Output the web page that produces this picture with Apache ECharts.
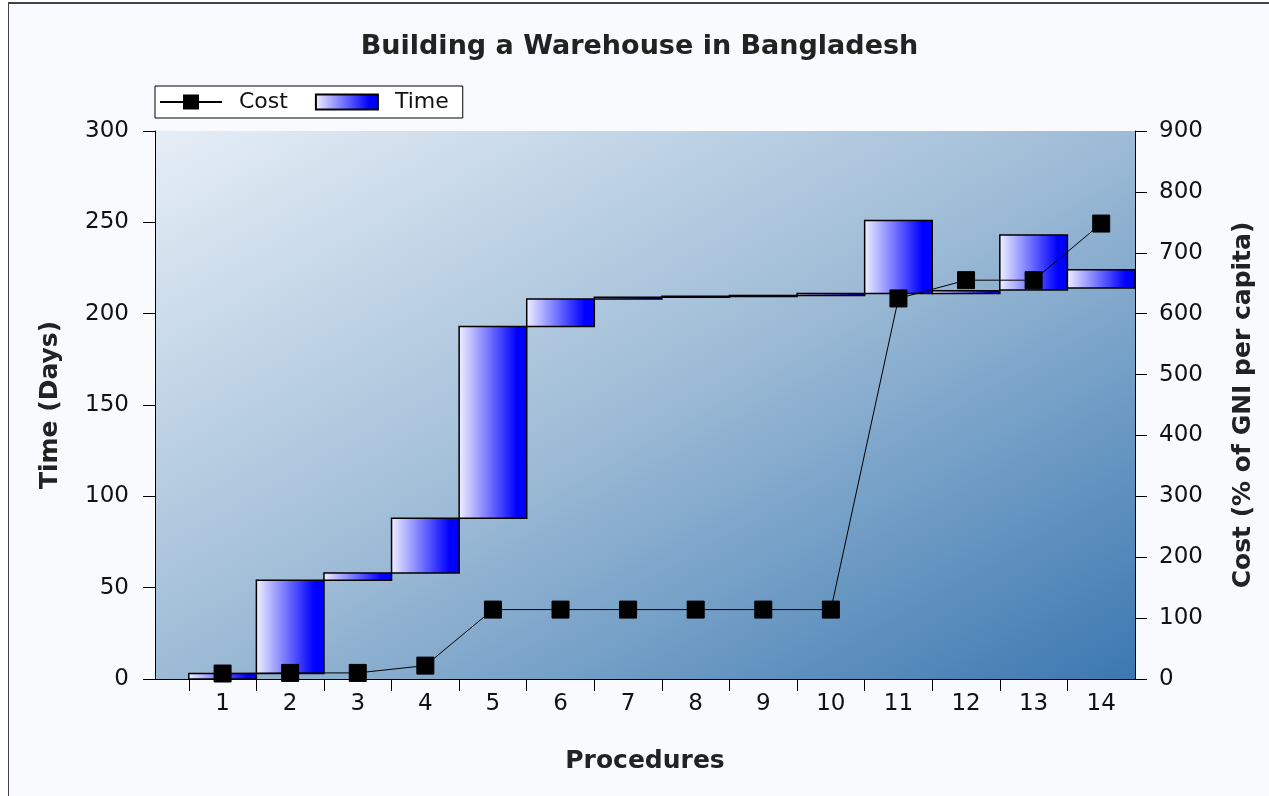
<!DOCTYPE html>
<html>
<head>
<meta charset="utf-8">
<title>Building a Warehouse in Bangladesh</title>
<script src="https://cdn.jsdelivr.net/npm/echarts@6/dist/echarts.min.js"></script>
<style>
  html, body { margin: 0; padding: 0; background: #ffffff; }
  #chart {
    position: absolute;
    left: 8px;
    top: 2px;
    width: 1261px;
    height: 794px;
    border-left: 1px solid #444;
    border-top: 2px solid #444;
    background: #f8fafd;
  }
</style>
</head>
<body>
<div id="chart"></div>
<script>
// procedures on the x axis
var procedures = [1, 2, 3, 4, 5, 6, 7, 8, 9, 10, 11, 12, 13, 14];
// time bars: start and end day of each procedure (floating bars)
var timeStart = [0, 3, 54, 58, 88, 193, 208, 209, 209.5, 210, 211, 211, 213, 214];
var timeEnd   = [3, 54, 58, 88, 193, 208, 209, 209.5, 210, 211, 251, 212.5, 243, 224];
// cumulative cost, % of GNI per capita
var cost = [9, 10, 10, 22, 114, 114, 114, 114, 114, 114, 625, 655, 655, 748];

var fontFamily = 'DejaVu Sans';

function barGradient() {
  return new echarts.graphic.LinearGradient(0, 0, 1, 0, [
    { offset: 0, color: '#f2f2ff' },
    { offset: 0.85, color: '#0000ff' },
    { offset: 1, color: '#0000ff' }
  ]);
}

var timeData = procedures.map(function (p, i) {
  return [p, timeStart[i], timeEnd[i]];
});
var costData = procedures.map(function (p, i) {
  return [p, cost[i]];
});

var myChart = echarts.init(document.getElementById('chart'));
var option = {
  backgroundColor: '#f8fafd',
  animation: false,
  textStyle: { fontFamily: fontFamily, color: '#111' },
  title: {
    text: 'Building a Warehouse in Bangladesh',
    left: 'center',
    top: 24,
    textStyle: { fontFamily: fontFamily, fontSize: 27, fontWeight: 'bold', color: '#222' }
  },
  legend: {
    left: 146,
    top: 82,
    orient: 'horizontal',
    backgroundColor: '#ffffff',
    borderColor: '#000',
    borderWidth: 1,
    borderRadius: 0,
    padding: [5, 14, 5, 5],
    itemWidth: 62,
    itemHeight: 15,
    itemGap: 27,
    textStyle: { fontFamily: fontFamily, fontSize: 22, color: '#111', padding: [0, 0, 0, 12] },
    data: [
      // line with a square marker in the middle
      { name: 'Cost', icon: 'path://M0,6.5H23V0H39V6.5H62V8.5H39V15H23V8.5H0Z', itemStyle: { color: '#000', borderWidth: 0 } },
      { name: 'Time', icon: 'rect' }
    ]
  },
  grid: {
    left: 146,
    right: 135,
    top: 127,
    bottom: 119,
    show: true,
    borderWidth: 0,
    // gradient runs so that top-right and bottom-left corners get the same tone
    backgroundColor: new echarts.graphic.LinearGradient(0, 0, 0.475, 1.526, [
      { offset: 0, color: '#e6eef6' },
      { offset: 0.5, color: '#9dbbd6' },
      { offset: 1, color: '#3b78b1' }
    ])
  },
  xAxis: {
    type: 'value',
    min: 0,
    max: 14.5,
    name: 'Procedures',
    nameLocation: 'middle',
    nameGap: 70,
    nameTextStyle: { fontFamily: fontFamily, fontSize: 25, fontWeight: 'bold', color: '#222' },
    axisLine: { show: true, lineStyle: { color: '#000', width: 1 } },
    axisTick: {
      show: true,
      length: 12,
      lineStyle: { color: '#000' },
      customValues: procedures.map(function (p) { return p - 0.5; })
    },
    axisLabel: {
      margin: 14,
      fontSize: 23,
      color: '#111',
      customValues: procedures
    },
    splitLine: { show: false }
  },
  yAxis: [
    {
      type: 'value',
      min: 0,
      max: 300,
      interval: 50,
      position: 'left',
      name: 'Time (Days)',
      nameLocation: 'middle',
      nameGap: 92,
      nameTextStyle: { fontFamily: fontFamily, fontSize: 25, fontWeight: 'bold', color: '#222' },
      axisLine: { show: true, lineStyle: { color: '#000', width: 1 } },
      axisTick: { show: true, length: 12, lineStyle: { color: '#000' } },
      axisLabel: { margin: 26, fontSize: 23, color: '#111' },
      splitLine: { show: false }
    },
    {
      type: 'value',
      min: 0,
      max: 900,
      interval: 100,
      position: 'right',
      name: 'Cost (% of GNI per capita)',
      nameLocation: 'middle',
      nameGap: 96,
      nameTextStyle: { fontFamily: fontFamily, fontSize: 25, fontWeight: 'bold', color: '#222' },
      axisLine: { show: true, lineStyle: { color: '#000', width: 1 } },
      axisTick: { show: true, length: 12, lineStyle: { color: '#000' } },
      axisLabel: { margin: 24, fontSize: 23, color: '#111' },
      splitLine: { show: false }
    }
  ],
  series: [
    {
      name: 'Time',
      type: 'custom',
      yAxisIndex: 0,
      z: 2,
      itemStyle: { color: barGradient(), borderColor: '#000', borderWidth: 1.5 },
      encode: { x: 0, y: [1, 2] },
      renderItem: function (params, api) {
        var x = api.value(0);
        var topLeft = api.coord([x - 0.5, api.value(2)]);
        var bottomRight = api.coord([x + 0.5, api.value(1)]);
        return {
          type: 'rect',
          shape: {
            x: topLeft[0],
            y: topLeft[1],
            width: bottomRight[0] - topLeft[0],
            height: Math.max(bottomRight[1] - topLeft[1], 1)
          },
          style: {
            fill: barGradient(),
            stroke: '#000',
            lineWidth: 1.5
          }
        };
      },
      data: timeData
    },
    {
      name: 'Cost',
      type: 'line',
      yAxisIndex: 1,
      z: 5,
      symbol: 'rect',
      symbolSize: 17,
      showAllSymbol: true,
      lineStyle: { color: '#000', width: 1 },
      itemStyle: { color: '#000', borderColor: '#000' },
      data: costData
    }
  ]
};
myChart.setOption(option);
</script>
</body>
</html>
